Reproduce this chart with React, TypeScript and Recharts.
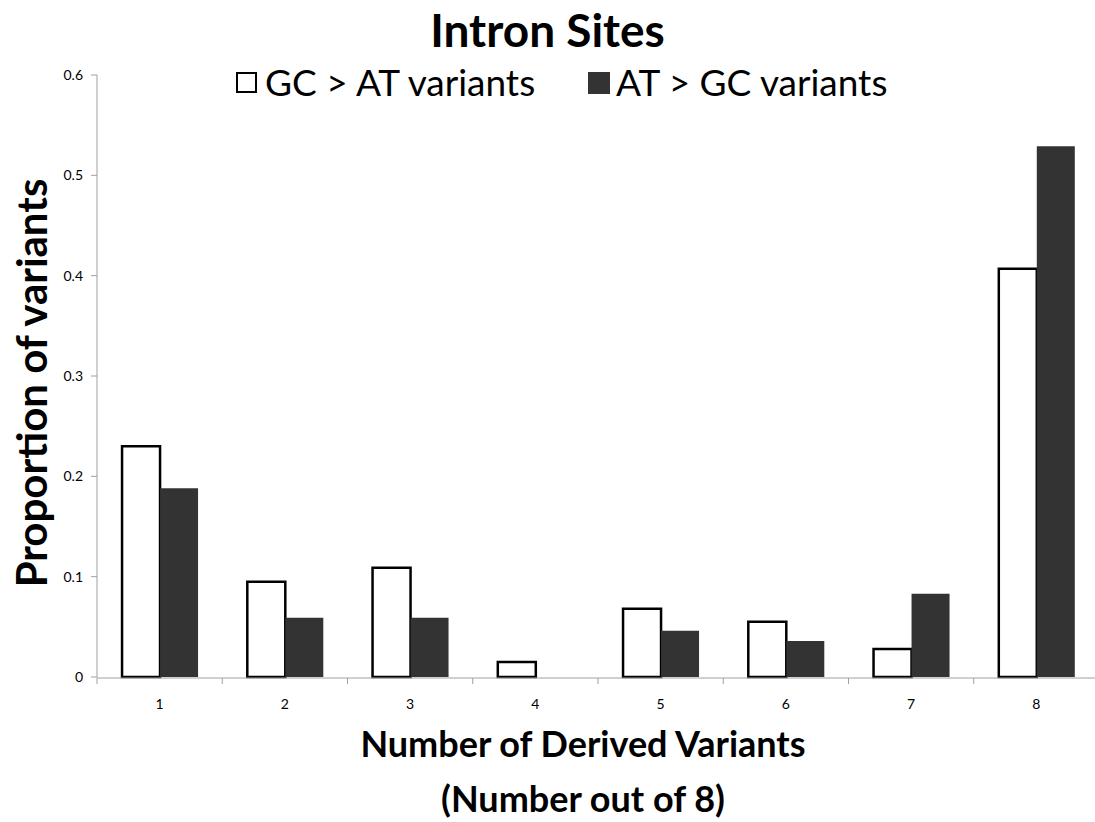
import { BarChart, Bar, XAxis, YAxis } from 'recharts';

const categories = ['1', '2', '3', '4', '5', '6', '7', '8'];
const gcToAt = [0.23, 0.095, 0.109, 0.015, 0.068, 0.055, 0.028, 0.407];
const atToGc = [0.188, 0.059, 0.059, 0, 0.046, 0.036, 0.083, 0.529];
const yTicks = [0, 0.1, 0.2, 0.3, 0.4, 0.5, 0.6];
const edgeTicks = [0, 1, 2, 3, 4, 5, 6, 7, 8];
const seriesNames = ['GC > AT variants', 'AT > GC variants'];

const data = categories.map((cat, i) => ({
  cat,
  idx: i + 0.5,
  gc: gcToAt[i],
  at: atToGc[i],
}));

const FONT = 'Lato, "Open Sans", sans-serif';
const AXIS = '#a0a0a0';

const noLabel = () => <g />;

const legendText = {
  position: 'absolute' as const,
  top: 59,
  fontFamily: FONT,
  fontSize: 37,
  lineHeight: '46px',
  color: '#000',
  whiteSpace: 'nowrap' as const,
};

function LegendBox() {
  return (
    <>
      <div style={{ position: 'absolute', left: 236, top: 72, width: 17, height: 17, border: '2.5px solid #000', background: '#fff' }} />
      <div style={{ ...legendText, left: 265 }}>{seriesNames[0]}</div>
      <div style={{ position: 'absolute', left: 588, top: 72, width: 22, height: 22, background: '#333333' }} />
      <div style={{ ...legendText, left: 616 }}>{seriesNames[1]}</div>
    </>
  );
}

export default function App() {
  return (
    <div style={{ position: 'absolute', left: 0, top: 0, width: 1095, height: 822, overflow: 'hidden', background: '#fff' }}>
      <div style={{ position: 'absolute', left: 0, width: 1095, top: 2, textAlign: 'center', fontFamily: FONT, fontWeight: 700, fontSize: 46, lineHeight: '56px' }}>
        Intron Sites
      </div>
      <LegendBox />
      <BarChart
        width={1095}
        height={822}
        data={data}
        margin={{ top: 75, right: -4, bottom: 143, left: 37 }}
        barCategoryGap="20%"
        barGap={0}
      >
        <XAxis
          xAxisId="edge"
          type="number"
          dataKey="idx"
          domain={[0, 8]}
          ticks={edgeTicks}
          tick={noLabel}
          height={1}
          stroke={AXIS}
          tickSize={6}
          allowDataOverflow
        />
        <XAxis
          xAxisId="cat"
          dataKey="cat"
          axisLine={false}
          tickLine={false}
          height={1}
          tickMargin={16}
          tick={{ fill: '#000', fontSize: 14, fontFamily: FONT }}
        />
        <YAxis
          domain={[0, 0.6]}
          ticks={yTicks}
          width={60}
          stroke={AXIS}
          tickSize={6}
          tickMargin={8}
          tick={{ fill: '#000', fontSize: 14, fontFamily: FONT }}
        />
        <YAxis yAxisId="hidden" hide domain={[0, 8]} />
        <Bar xAxisId="cat" dataKey="gc" name={seriesNames[0]} fill="#fff" stroke="#000" strokeWidth={2.5} isAnimationActive={false} />
        <Bar xAxisId="cat" dataKey="at" name={seriesNames[1]} fill="#333333" isAnimationActive={false} />
        <Bar xAxisId="edge" yAxisId="hidden" dataKey="idx" fill="none" stroke="none" barSize={0} isAnimationActive={false} />
      </BarChart>
      <div style={{ position: 'absolute', left: 97, width: 972, top: 716, textAlign: 'center', fontFamily: FONT, fontWeight: 700, fontSize: 36, lineHeight: '55px' }}>
        Number of Derived Variants
        <br />
        (Number out of 8)
      </div>
      <div
        style={{
          position: 'absolute',
          left: 31,
          top: 383,
          transform: 'translate(-50%, -50%) rotate(-90deg)',
          whiteSpace: 'nowrap',
          fontFamily: FONT,
          fontWeight: 700,
          fontSize: 42,
        }}
      >
        Proportion of variants
      </div>
    </div>
  );
}
